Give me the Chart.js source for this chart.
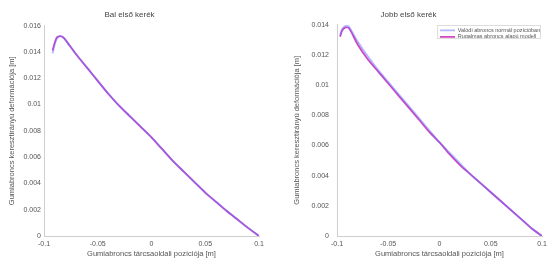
<!DOCTYPE html>
<html>
<head>
<meta charset="utf-8">
<script src="https://cdn.jsdelivr.net/npm/chart.js@4.4.1/dist/chart.umd.min.js"></script>
<style>
  html, body { margin: 0; padding: 0; background: #fff; }
  .wrap { position: absolute; top: 0; height: 260px; }
</style>
</head>
<body>
<div class="wrap" style="left:0;width:275px"><canvas id="chartLeft" width="275" height="260"></canvas></div>
<div class="wrap" style="left:275px;width:276px"><canvas id="chartRight" width="276" height="260"></canvas></div>
<script>
// tyre position along the rim [m] and lateral deformation [m]
var leftX = [-0.092, -0.090, -0.088, -0.085, -0.082, -0.079, -0.07, -0.06, -0.05, -0.04, -0.03, -0.02, -0.01, 0, 0.01, 0.02, 0.03, 0.04, 0.05, 0.06, 0.07, 0.08, 0.09, 0.1];
var leftBlue = [0.0139, 0.0146, 0.0150, 0.0152, 0.0151, 0.0148, 0.0138, 0.0128, 0.0118, 0.0108, 0.0099, 0.0091, 0.0083, 0.0075, 0.0066, 0.0057, 0.0049, 0.0041, 0.0033, 0.0026, 0.0019, 0.00125, 0.0006, 0.0];
var leftPink = [0.0141, 0.0147, 0.0151, 0.0152, 0.0151, 0.0148, 0.0138, 0.0128, 0.0118, 0.0108, 0.0099, 0.0091, 0.0083, 0.0075, 0.0066, 0.0057, 0.0049, 0.0041, 0.0033, 0.0026, 0.0019, 0.00125, 0.0006, 0.0];

var rightX = [-0.097, -0.095, -0.092, -0.089, -0.086, -0.08, -0.07, -0.06, -0.05, -0.04, -0.03, -0.02, -0.01, 0, 0.01, 0.02, 0.03, 0.04, 0.05, 0.06, 0.07, 0.08, 0.09, 0.1];
var rightBlue = [0.0133, 0.0137, 0.0139, 0.0139, 0.0136, 0.0129, 0.0119, 0.0110, 0.0102, 0.0094, 0.0086, 0.0078, 0.0070, 0.0062, 0.0055, 0.0048, 0.0041, 0.0035, 0.0029, 0.0023, 0.0017, 0.0011, 0.0005, 0.0];
var rightPink = [0.0132, 0.0136, 0.0138, 0.0138, 0.0135, 0.0127, 0.0117, 0.0109, 0.0101, 0.0093, 0.0085, 0.0077, 0.0069, 0.0062, 0.0054, 0.0047, 0.0041, 0.0035, 0.0029, 0.0023, 0.0017, 0.0011, 0.0005, 0.0];

var seriesNames = ['Valódi abroncs normál pozícióban', 'Rugalmas abroncs alapú modell'];
var titles = ['Bal első kerék', 'Jobb első kerék'];
var xTitle = 'Gumiabroncs tárcsaoldali pozíciója [m]';
var yTitle = 'Gumiabroncs keresztirányú deformációja [m]';

var FONT = '"Liberation Sans", Arial, sans-serif';
var BLUE = 'rgba(110,110,255,0.5)';
var PINK = 'rgb(210,70,190)';

function pts(xs, ys) {
  var out = [];
  for (var i = 0; i < xs.length; i += 1) out.push({ x: xs[i], y: ys[i] });
  return out;
}

function fmt(v) {
  return String(Number(v.toFixed(4)));
}

// legend drawn inside the plot area, top right, with a thin frame
var legendInside = {
  id: 'legendInside',
  afterLayout: function (chart) {
    var lg = chart.legend;
    if (!lg || !lg.options.display) return;
    var a = chart.chartArea;
    lg.left = a.right - 103;
    lg.right = a.right;
    lg.width = lg.right - lg.left;
    lg.top = a.top + 2;
    lg.height = 22;
    lg.bottom = lg.top + lg.height;
  },
  afterDraw: function (chart) {
    var lg = chart.legend;
    if (!lg || !lg.options.display || !lg.legendHitBoxes.length) return;
    var ctx = chart.ctx;
    var hb = lg.legendHitBoxes;
    var x0 = hb[0].left, y0 = hb[0].top, x1 = 0, y1 = 0;
    hb.forEach(function (b) {
      x0 = Math.min(x0, b.left); y0 = Math.min(y0, b.top);
      x1 = Math.max(x1, b.left + b.width); y1 = Math.max(y1, b.top + b.height);
    });
    x1 = Math.min(x1, chart.chartArea.right - 2);
    ctx.save();
    ctx.strokeStyle = '#dddddd';
    ctx.lineWidth = 1;
    ctx.strokeRect(Math.round(x0 - 3) + 0.5, Math.round(y0 - 3) + 0.5, Math.round(x1 - x0 + 3), Math.round(y1 - y0 + 7));
    ctx.restore();
  }
};

function makeChart(id, opt) {
  var el = document.getElementById(id);
  return new Chart(el.getContext('2d'), {
    type: 'line',
    data: {
      datasets: [
        { label: seriesNames[0], data: pts(opt.xs, opt.blue), borderColor: BLUE, backgroundColor: BLUE, borderWidth: 1.9, pointRadius: 0, tension: 0.2 },
        { label: seriesNames[1], data: pts(opt.xs, opt.pink), borderColor: PINK, backgroundColor: PINK, borderWidth: 1.8, pointRadius: 0, tension: 0.2 }
      ]
    },
    options: {
      responsive: false,
      animation: false,
      events: [],
      layout: { padding: { left: 0, right: opt.padRight, top: 0, bottom: 0 } },
      plugins: {
        title: {
          display: true,
          text: opt.title,
          color: '#444',
          font: { family: FONT, size: 8, weight: 'normal' },
          padding: { top: 10, bottom: opt.titleBottom }
        },
        legend: {
          display: opt.legend,
          position: 'top',
          align: 'start',
          fullSize: false,
          maxHeight: 1,
          labels: {
            color: '#555',
            font: { family: FONT, size: 5.5 },
            usePointStyle: true,
            pointStyle: 'line',
            pointStyleWidth: 15,
            boxHeight: 5,
            padding: 1
          }
        },
        tooltip: { enabled: false }
      },
      scales: {
        x: {
          type: 'linear',
          min: -0.1,
          max: 0.1,
          afterFit: function (s) { s.height = 24; },
          grid: { display: false, drawTicks: false, tickLength: 0 },
          border: { display: true, color: '#cfcfcf' },
          ticks: { stepSize: 0.05, color: '#555', padding: 4, font: { family: FONT, size: 7 }, callback: fmt },
          title: { display: true, text: xTitle, color: '#555', font: { family: FONT, size: 7.5 }, padding: { top: 0, bottom: 2 } }
        },
        y: {
          min: 0,
          max: opt.yMax,
          afterFit: function (s) { s.width = opt.yWidth; },
          grid: { display: false, drawTicks: false, tickLength: 0 },
          border: { display: true, color: '#cfcfcf' },
          ticks: { stepSize: 0.002, color: '#555', padding: opt.yTickPad, font: { family: FONT, size: 7 }, callback: fmt },
          title: { display: true, text: yTitle, color: '#555', font: { family: FONT, size: 7.5 }, padding: { top: opt.yTitlePad, bottom: 0 } }
        }
      }
    },
    plugins: [legendInside]
  });
}

makeChart('chartLeft', { xs: leftX, blue: leftBlue, pink: leftPink, title: titles[0], yMax: 0.016, yWidth: 44, padRight: 16, titleBottom: 6, yTitlePad: 7, yTickPad: 3, legend: false });
makeChart('chartRight', { xs: rightX, blue: rightBlue, pink: rightPink, title: titles[1], yMax: 0.014, yWidth: 62, padRight: 9, titleBottom: 4, yTitlePad: 17, yTickPad: 8, legend: true });
</script>
</body>
</html>
